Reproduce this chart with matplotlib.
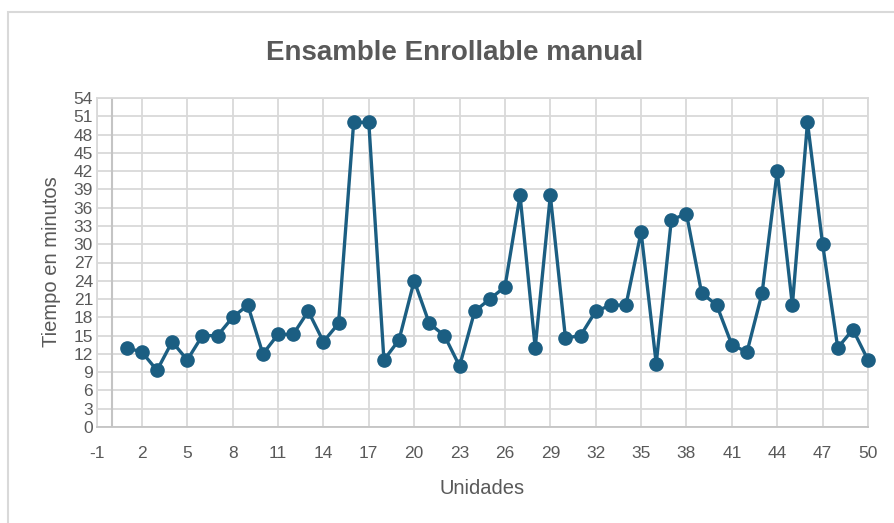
import matplotlib
matplotlib.use("Agg")
import matplotlib.pyplot as plt
from matplotlib.patches import Rectangle

# Units assembled and time taken for each (minutes)
unidades = list(range(1, 51))
tiempos = [13, 12.3, 9.3, 14, 11, 15, 15, 18, 20, 12,
           15.2, 15.2, 19, 14, 17, 50, 50, 11, 14.3, 24,
           17, 15, 10, 19, 21, 23, 38, 13, 38, 14.6,
           15, 19, 20, 20, 32, 10.4, 34, 35, 22, 20,
           13.5, 12.3, 22, 42, 20, 50, 30, 13, 16, 11]

x_ticks = list(range(-1, 51, 3))
y_ticks = list(range(0, 55, 3))

titulo = "Ensamble Enrollable manual"
eje_x = "Unidades"
eje_y = "Tiempo en minutos"

fuente = ["Liberation Sans", "DejaVu Sans"]
text_color = "#595959"
grid_color = "#d9d9d9"
line_color = "#1b5e82"

W, H = 894, 523
fig = plt.figure(figsize=(W / 100, H / 100), dpi=100)

# chart-area frame
fig.patches.append(Rectangle((8 / W, -0.05), 1.2, (H - 12) / H + 0.05,
                             transform=fig.transFigure, fill=False,
                             edgecolor="#d9d9d9", linewidth=1.5))

left, right, top, bottom = 96.5, 868, 98, 427
ax = fig.add_axes([left / W, 1 - bottom / H, (right - left) / W, (bottom - top) / H])

ax.set_xlim(-1, 50)
ax.set_ylim(0, 54)
ax.set_xticks(x_ticks)
ax.set_xticklabels([str(t) for t in x_ticks])
ax.set_yticks(y_ticks)
ax.set_yticklabels([str(t) for t in y_ticks])
ax.grid(True, color=grid_color, linewidth=1.3)
ax.set_axisbelow(True)
ax.axvline(0, color="#c4c4c4", linewidth=1.5, zorder=1)
for s in ax.spines.values():
    s.set_color(grid_color)
    s.set_linewidth(1.3)
ax.spines["bottom"].set_color("#c4c4c4")

ax.tick_params(length=0, labelsize=12.5, labelcolor=text_color)
ax.tick_params(axis="y", pad=2.5)
ax.tick_params(axis="x", pad=14)
for lab in ax.get_xticklabels() + ax.get_yticklabels():
    lab.set_family(fuente)

ax.plot(unidades, tiempos, color=line_color, linewidth=2.4,
        marker="o", markersize=9.5, markerfacecolor=line_color,
        markeredgecolor=line_color, zorder=3, clip_on=False)

fig.text(455 / W, 1 - 60 / H, titulo, ha="center", va="baseline",
         fontsize=20, fontweight="bold", color=text_color, family=fuente)
fig.text(482 / W, 1 - 488 / H, eje_x, ha="center", va="center",
         fontsize=14.5, color=text_color, family=fuente)
fig.text(52 / W, 1 - 262 / H, eje_y, ha="center", va="center",
         rotation=90, fontsize=14.5, color=text_color, family=fuente)

fig.savefig("out.png", dpi=100, facecolor="white")
